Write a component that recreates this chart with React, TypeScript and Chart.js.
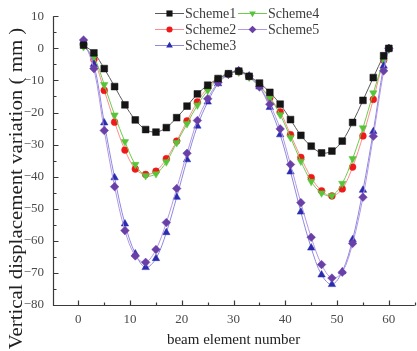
import React, { useEffect, useRef } from 'react';
import { Chart, registerables } from 'chart.js';

Chart.register(...registerables);

const elementNumbers = [1, 3, 5, 7, 9, 11, 13, 15, 17, 19, 21, 23, 25, 27, 29, 31, 33, 35, 37, 39, 41, 43, 45, 47, 49, 51, 53, 55, 57, 59, 60];

const scheme1 = [1, -1.4, -6.3, -11.9, -17.6, -22.3, -25.3, -26.1, -24.7, -21.6, -18.0, -14.2, -11.5, -9.4, -7.9, -7.1, -8.7, -10.8, -13.7, -17.4, -22.2, -27.1, -30.5, -32.6, -32.0, -28.9, -23.1, -16.2, -9.1, -2.3, 0];
const scheme2 = [1, -3.5, -13.1, -23.0, -31.7, -37.6, -39.3, -38.3, -34.4, -28.9, -22.6, -16.7, -12.3, -9.6, -8.1, -7.3, -8.8, -11.6, -15.4, -19.8, -26.9, -34.0, -40.3, -44.4, -46.0, -43.8, -37.0, -27.3, -15.9, -3.7, 0];
const scheme3 = [2, -5, -23.2, -40.3, -54.7, -64.0, -68.3, -65.5, -57.4, -46.4, -34.7, -24.2, -16.7, -11.0, -8.1, -7.0, -8.6, -12.0, -18.4, -26.9, -38.5, -51.0, -62.2, -70.6, -73.6, -69.6, -59.6, -44.2, -25.9, -5.5, 0];
const scheme4 = [0.5, -2.7, -11.3, -20.8, -29.1, -36.2, -39.7, -39.1, -35.4, -29.4, -23.5, -17.7, -13.1, -9.8, -8.1, -7.4, -9.0, -12.0, -15.4, -20.7, -27.8, -35.2, -41.5, -45.1, -45.9, -42.1, -34.4, -24.8, -13.9, -3.9, -0.3];
const scheme5 = [2.6, -6.3, -25.6, -43.1, -56.8, -64.7, -66.7, -62.7, -54.3, -43.7, -32.7, -22.5, -15.7, -10.6, -8.1, -7.0, -8.6, -12.0, -17.4, -25.1, -36.2, -48.1, -58.9, -67.4, -71.6, -69.8, -60.8, -46.4, -27.4, -7.0, 0];

const xTickValues = [0, 10, 20, 30, 40, 50, 60];
const yTickValues = [10, 0, -10, -20, -30, -40, -50, -60, -70, -80];
const xMinorValues = [5, 15, 25, 35, 45, 55, 65];
const yMinorValues = [5, -5, -15, -25, -35, -45, -55, -65, -75];

const xTitle = 'beam element number';
const yTitle = 'Vertical displacement variation ( mm )';

const SERIF = '"Liberation Serif", "Times New Roman", serif';

type Series = {
  label: string;
  data: number[];
  marker: string;
  line: string;
  style: string;
  rotation: number;
  radius: number;
};

const series: Series[] = [
  { label: 'Scheme1', data: scheme1, marker: '#151515', line: '#5a5a5a', style: 'rect', rotation: 0, radius: 4.8 },
  { label: 'Scheme2', data: scheme2, marker: '#f01818', line: '#ff8c8c', style: 'circle', rotation: 0, radius: 3.4 },
  { label: 'Scheme3', data: scheme3, marker: '#2b2bb0', line: '#8a8ae0', style: 'triangle', rotation: 0, radius: 4.3 },
  { label: 'Scheme4', data: scheme4, marker: '#58c43a', line: '#6ccc4c', style: 'triangle', rotation: 180, radius: 4.3 },
  { label: 'Scheme5', data: scheme5, marker: '#6a40a8', line: '#b496e2', style: 'rectRot', rotation: 0, radius: 4.3 },
];

// legend layout: [seriesIndex, column, row]
const legendLayout = [
  [0, 0, 0],
  [1, 0, 1],
  [2, 0, 2],
  [3, 1, 0],
  [4, 1, 1],
];

function drawMarker(ctx: CanvasRenderingContext2D, style: string, rotation: number, x: number, y: number, r: number, color: string) {
  ctx.fillStyle = color;
  ctx.beginPath();
  if (style === 'rect') {
    const s = r * Math.SQRT1_2;
    ctx.rect(x - s, y - s, 2 * s, 2 * s);
  } else if (style === 'circle') {
    ctx.arc(x, y, r, 0, Math.PI * 2);
  } else if (style === 'triangle') {
    let rad = (rotation * Math.PI) / 180;
    ctx.moveTo(x + Math.sin(rad) * r, y - Math.cos(rad) * r);
    rad += (2 * Math.PI) / 3;
    ctx.lineTo(x + Math.sin(rad) * r, y - Math.cos(rad) * r);
    rad += (2 * Math.PI) / 3;
    ctx.lineTo(x + Math.sin(rad) * r, y - Math.cos(rad) * r);
  } else if (style === 'rectRot') {
    ctx.moveTo(x, y - r);
    ctx.lineTo(x + r, y);
    ctx.lineTo(x, y + r);
    ctx.lineTo(x - r, y);
  }
  ctx.closePath();
  ctx.fill();
}

const axesPlugin = {
  id: 'axesPlugin',
  afterDatasetsDraw(chart: any) {
    const { ctx, chartArea: a, scales } = chart;
    const xs = scales.x;
    const ys = scales.y;
    ctx.save();
    ctx.strokeStyle = '#3a3a3a';
    ctx.lineWidth = 1.2;
    const L = Math.round(a.left) + 0.5;
    const B = Math.round(a.bottom) + 0.5;
    ctx.beginPath();
    ctx.moveTo(L, a.top);
    ctx.lineTo(L, B);
    ctx.lineTo(a.right, B);
    yTickValues.forEach((v) => {
      const p = Math.round(ys.getPixelForValue(v)) + 0.5;
      ctx.moveTo(L, p);
      ctx.lineTo(L + 5, p);
    });
    yMinorValues.forEach((v) => {
      const p = Math.round(ys.getPixelForValue(v)) + 0.5;
      ctx.moveTo(L, p);
      ctx.lineTo(L + 3, p);
    });
    xTickValues.forEach((v) => {
      const p = Math.round(xs.getPixelForValue(v)) + 0.5;
      ctx.moveTo(p, B);
      ctx.lineTo(p, B - 5);
    });
    xMinorValues.forEach((v) => {
      const p = Math.round(xs.getPixelForValue(v)) + 0.5;
      ctx.moveTo(p, B);
      ctx.lineTo(p, B - 3);
    });
    ctx.stroke();

    // y-axis title (placed as in the reference, lower than the axis centre)
    ctx.save();
    ctx.translate(16.5, 188.5);
    ctx.rotate(-Math.PI / 2);
    ctx.scale(1.07, 1);
    ctx.font = `19.5px ${SERIF}`;
    ctx.fillStyle = '#222';
    ctx.textAlign = 'center';
    ctx.textBaseline = 'middle';
    ctx.fillText(yTitle, 0, 0);
    ctx.restore();

    ctx.restore();
  },
};

const legendPlugin = {
  id: 'customLegend',
  afterDraw(chart: any) {
    const { ctx } = chart;
    const colX = [155, 238];
    const rowY = [13.5, 29.5, 45.5];
    const lineLen = 29;
    ctx.save();
    ctx.font = `14px ${SERIF}`;
    ctx.textBaseline = 'middle';
    ctx.textAlign = 'left';
    legendLayout.forEach(([si, c, r]) => {
      const s = series[si];
      const x0 = colX[c];
      const y0 = rowY[r];
      ctx.strokeStyle = s.line;
      ctx.lineWidth = 1;
      ctx.beginPath();
      ctx.moveTo(x0, y0);
      ctx.lineTo(x0 + lineLen, y0);
      ctx.stroke();
      drawMarker(ctx, s.style, s.rotation, x0 + lineLen / 2, y0, s.radius * 0.9, s.marker);
      ctx.fillStyle = '#3c3c3c';
      ctx.fillText(s.label, x0 + lineLen + 1, y0 + 1);
    });
    ctx.restore();
  },
};

export default function App() {
  const ref = useRef<HTMLCanvasElement | null>(null);

  useEffect(() => {
    if (!ref.current) return;
    const drawOrder = [0, 4, 2, 3, 1];
    const chart = new Chart(ref.current, {
      type: 'line',
      data: {
        datasets: drawOrder.map((i) => {
          const s = series[i];
          return {
            label: s.label,
            data: s.data.map((v, k) => ({ x: elementNumbers[k], y: v })),
            borderColor: s.line,
            borderWidth: 1,
            backgroundColor: s.marker,
            pointBackgroundColor: s.marker,
            pointBorderColor: s.marker,
            pointBorderWidth: 0.5,
            pointStyle: s.style as any,
            pointRotation: s.rotation,
            pointRadius: s.radius,
            tension: 0.35,
            fill: false,
          };
        }),
      },
      options: {
        responsive: false,
        animation: false,
        layout: { padding: { left: 0, right: 1.5, top: 10, bottom: 0 } },
        plugins: {
          legend: { display: false },
          tooltip: { enabled: false },
        },
        scales: {
          x: {
            type: 'linear',
            min: -5,
            max: 65,
            grid: { display: false, drawTicks: false },
            border: { display: false },
            afterBuildTicks: (s: any) => {
              s.ticks = xTickValues.map((v) => ({ value: v }));
            },
            afterFit: (s: any) => {
              s.height = 46;
            },
            ticks: {
              padding: 7,
              color: '#4a4a4a',
              font: { family: SERIF, size: 13 },
              maxRotation: 0,
              autoSkip: false,
            },
            title: {
              display: true,
              text: xTitle,
              color: '#222',
              font: { family: SERIF, size: 15 },
              padding: { top: 0, bottom: 2 },
            },
          },
          y: {
            type: 'linear',
            min: -80,
            max: 10,
            grid: { display: false, drawTicks: false },
            border: { display: false },
            afterBuildTicks: (s: any) => {
              s.ticks = yTickValues.map((v) => ({ value: v }));
            },
            afterFit: (s: any) => {
              s.width = 52.5;
            },
            ticks: {
              padding: 8.5,
              color: '#4a4a4a',
              font: { family: SERIF, size: 13 },
              autoSkip: false,
              callback: (v: any) => String(v).replace('-', '\u2212'),
            },
            title: { display: false },
          },
        },
      },
      plugins: [axesPlugin, legendPlugin],
    });
    return () => chart.destroy();
  }, []);

  return (
    <div style={{ position: 'fixed', left: 0, top: 0, width: 417, height: 351, overflow: 'hidden', background: '#fff' }}>
      <canvas ref={ref} width={420} height={351} style={{ display: 'block' }} />
    </div>
  );
}
